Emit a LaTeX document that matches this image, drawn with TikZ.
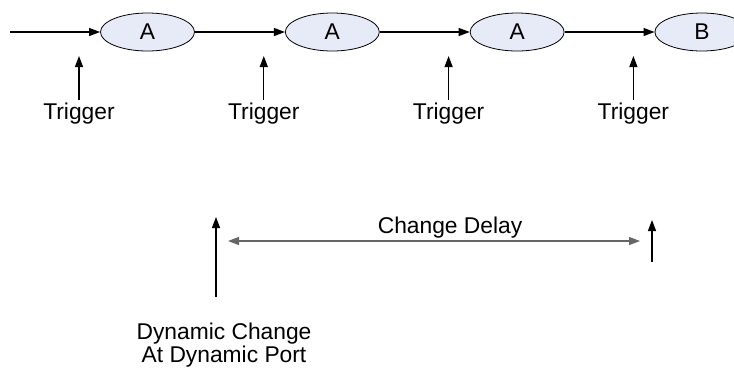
\documentclass[tikz,border=0pt]{standalone}
\usepackage{fontspec}
\setmainfont{Liberation Sans}
\usetikzlibrary{positioning,arrows.meta,calc,shapes.geometric}
\definecolor{statefill}{RGB}{231,235,248}

\begin{document}
\begin{tikzpicture}[
  x=0.5pt, y=-0.5pt,
  node distance=45pt,
  state/.style={draw, ellipse, fill=statefill, minimum width=47pt, minimum height=19pt, inner sep=0pt, font=\fontsize{11.4}{13}\selectfont},
  lbl/.style={align=center, inner sep=1pt, font=\fontsize{11.4}{11.3}\selectfont},
  arr/.style={-{Triangle[length=5.5pt, width=4pt]}, line width=0.6pt},
  garr/.style={arr, draw=black!60}
]
\clip (0,0) rectangle (734,371);
\node[state] at (147.5,32) (s1) {A};
\node[state, right=of s1] (s2) {A};
\node[state, right=of s2] (s3) {A};
\node[state, right=of s3] (s4) {B};
\coordinate (in) at (10,32);
\draw[arr] (in) -- (s1); \draw[arr] (s1) -- (s2); \draw[arr] (s2) -- (s3); \draw[arr] (s3) -- (s4);

% triggers
\foreach \n in {1,...,4} {
  \node[lbl, anchor=base] (t\n) at ($(s\n)+(-68.5,87)$) {Trigger};
  \coordinate (p\n) at ($(s\n)+(-68.5,24)$);
  \draw[arr] (t\n.north) -- (p\n);
}

% dynamic change and delay
\node[lbl] (dyn) at (224,345) {Dynamic Change\\At Dynamic Port};
\coordinate (d0) at (216,297); \coordinate (d1) at (216,217);
\coordinate (e0) at (652,262); \coordinate (e1) at (652,220);
\coordinate (c0) at (228,241); \coordinate (c1) at (640,241);
\draw[arr] (d0) -- (d1); \draw[arr] (e0) -- (e1);
\draw[garr, {Triangle[length=5.5pt, width=4pt]}-{Triangle[length=5.5pt, width=4pt]}] (c0) -- node[lbl, above, pos=0.539] (cd) {Change Delay} (c1);
\end{tikzpicture}
\end{document}
